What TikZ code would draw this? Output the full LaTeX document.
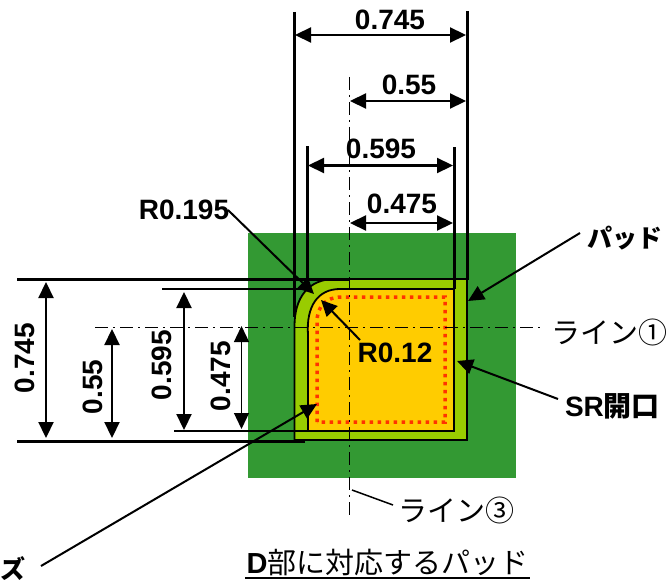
\documentclass[tikz,border=0pt]{standalone}
\usepackage{fontspec}
\usepackage{tikz}
\usetikzlibrary{arrows.meta}
\setmainfont{Liberation Sans}
\newfontfamily\cjk{Noto Sans CJK JP}

\definecolor{boardgreen}{HTML}{339933}
\definecolor{padgreen}{HTML}{99CC00}
\definecolor{openorange}{HTML}{FFCC00}
\definecolor{dotred}{HTML}{FF3300}

\begin{document}
\begin{tikzpicture}[x=1pt,y=-1pt]
        \tikzstyle{dim} = [line width=2.2pt,{Triangle[length=16pt,width=15pt]}-{Triangle[length=16pt,width=15pt]}]
        \tikzstyle{thindim} = [dim,line width=1.3pt]
        \tikzstyle{extline} = [line width=3pt]
        \tikzstyle{baseline} = [line width=2pt]
        \tikzstyle{leader} = [line width=2pt,-{Triangle[length=16pt,width=15pt]}]
        \tikzstyle{centerline} = [line width=1.5pt,dash pattern=on 13pt off 5pt on 2pt off 5pt]
        \tikzstyle{num} = [font=\bfseries\fontsize{28}{28}\selectfont,inner sep=0pt]
        \tikzstyle{jplabel} = [font=\cjk\fontsize{29}{29}\selectfont,inner sep=0pt]
        \tikzstyle{jpbold} = [font=\cjk\bfseries\fontsize{25}{25}\selectfont,inner sep=0pt]

        \useasboundingbox (0,0) rectangle (666,583);

        % board, pad, opening
        \fill [boardgreen] (248,233) rectangle (516,478);
        \draw [fill=padgreen,line width=1.8pt] (294.5,440) -- (294.5,326) .. controls (294.5,298) and (308,279) .. (335,279) -- (467,279) -- (467,440) -- cycle;
        \draw [fill=openorange,line width=1.8pt] (308,431) -- (308,335) .. controls (306,306) and (318,289) .. (340,289) -- (454,289) -- (454,431) -- cycle;
        \draw [dotred,line width=3.5pt,dash pattern=on 3.5pt off 4.5pt] (317,422) -- (317,322) .. controls (317,306) and (326,297) .. (342,297) -- (445,297) -- (445,422) -- cycle;

        % center lines
        \coordinate (vtop) at (349.5,77);
        \coordinate (vbot) at (349.5,518);
        \coordinate (hleft) at (95,327.5);
        \coordinate (hright) at (540,327.5);
        \draw [centerline] (vtop) -- (vbot);
        \draw [centerline] (hleft) -- (hright);

        % extension lines
        \coordinate (a1) at (294,12);
        \coordinate (a2) at (294,317);
        \coordinate (b1) at (467,11);
        \coordinate (b2) at (467,280);
        \coordinate (c1) at (307,146);
        \coordinate (c2) at (307,289);
        \coordinate (d1) at (454,147);
        \coordinate (d2) at (454,289);
        \coordinate (e1) at (17,279);
        \coordinate (e2) at (349,279);
        \coordinate (f1) at (162,289);
        \coordinate (f2) at (308,289);
        \coordinate (g1) at (174,431);
        \coordinate (g2) at (308,431);
        \coordinate (h1) at (17,441);
        \coordinate (h2) at (305,441);
        \draw [extline] (a1) -- (a2);
        \draw [extline] (b1) -- (b2);
        \draw [extline] (c1) -- (c2);
        \draw [extline] (d1) -- (d2);
        \draw [extline] (e1) -- (e2);
        \draw [baseline] (f1) -- (f2);
        \draw [baseline] (g1) -- (g2);
        \draw [extline] (h1) -- (h2);

        % top dimensions
        \coordinate (t1l) at (295,35);
        \coordinate (t1r) at (466,35);
        \coordinate (t2l) at (350,101);
        \coordinate (t2r) at (466,101);
        \coordinate (t3l) at (308,165.5);
        \coordinate (t3r) at (453,165.5);
        \coordinate (t4l) at (350,223);
        \coordinate (t4r) at (453,223);
        \draw [dim] (t1l) -- (t1r);
        \draw [dim] (t2l) -- (t2r);
        \draw [dim] (t3l) -- (t3r);
        \draw [dim] (t4l) -- (t4r);
        \node [num] (top745) at (390,20) {0.745};
        \node [num] (top55) at (409,85) {0.55};
        \node [num] (top595) at (381,149) {0.595};
        \node [num] (top475) at (402,204) {0.475};

        % left dimensions
        \coordinate (l1t) at (46,282);
        \coordinate (l1b) at (46,438);
        \coordinate (l2t) at (112,329);
        \coordinate (l2b) at (112,438);
        \coordinate (l3t) at (184,292);
        \coordinate (l3b) at (184,430);
        \coordinate (l4t) at (241.5,326);
        \coordinate (l4b) at (241.5,429);
        \draw [dim] (l1t) -- (l1b);
        \draw [dim] (l2t) -- (l2b);
        \draw [dim] (l3t) -- (l3b);
        \draw [thindim] (l4t) -- (l4b);
        \node [num,rotate=90] (left745) at (25,358) {0.745};
        \node [num,rotate=90] (left55) at (93,387) {0.55};
        \node [num,rotate=90] (left595) at (162,365) {0.595};
        \node [num,rotate=90] (left475) at (221,376) {0.475};

        % labels
        \node [num] (r195) at (184,210) {R0.195};
        \node [num] (r12) at (395,353) {R0.12};
        \node [jpbold] (pad) at (625,238) {パッド};
        \node [jplabel] (line1) at (609,332) {ライン①};
        \node [jpbold,font=\cjk\bfseries\fontsize{28}{28}\selectfont] (sropen) at (612.5,406) {{\rmfamily SR}開口};
        \node [jplabel] (line3) at (456,510) {ライン③};
        \node [jpbold] (resist) at (13.5,569) {ズ};
        \node [jplabel] (title) at (387.5,562) {{\rmfamily\bfseries D}部に対応するパッド};
        \coordinate (ul1) at (245,577.5);
        \coordinate (ul2) at (530,577.5);
        \draw [baseline] (ul1) -- (ul2);

        % leaders
        \coordinate (r195s) at (228,210);
        \coordinate (r195e) at (314,294);
        \coordinate (r12s) at (360,340);
        \coordinate (r12e) at (321,300);
        \coordinate (pads) at (580,233);
        \coordinate (pade) at (468,301);
        \coordinate (srs) at (558,399);
        \coordinate (sre) at (457,361);
        \coordinate (ress) at (41,566);
        \coordinate (rese) at (317,404);
        \coordinate (l3s) at (352,490);
        \coordinate (l3e) at (393,505);
        \draw [leader] (r195s) -- (r195e);
        \draw [leader] (r12s) -- (r12e);
        \draw [leader] (pads) -- (pade);
        \draw [leader] (srs) -- (sre);
        \draw [leader] (ress) -- (rese);
        \draw [line width=1.5pt] (l3s) -- (l3e);
    \end{tikzpicture}
\end{document}
